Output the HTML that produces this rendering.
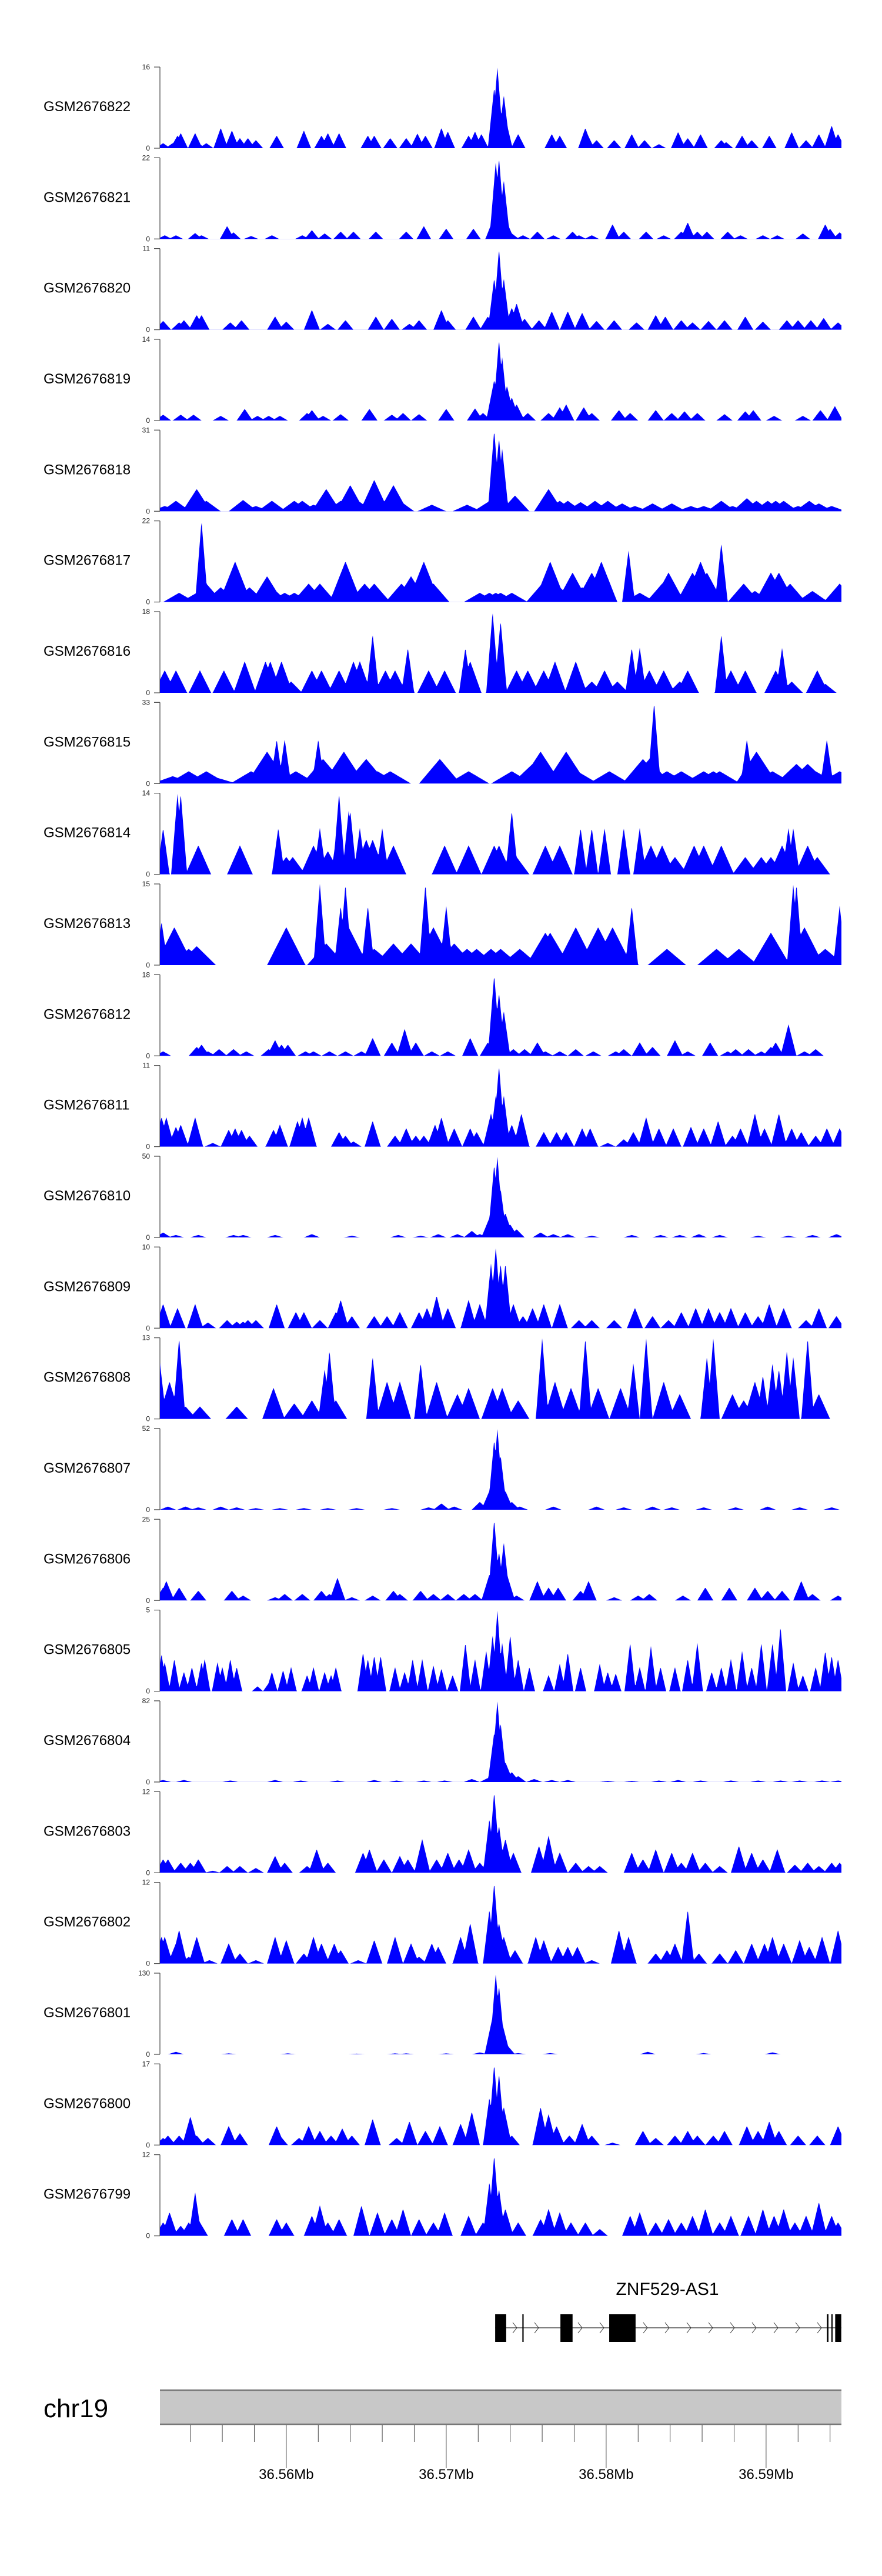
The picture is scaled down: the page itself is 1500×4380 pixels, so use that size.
<!DOCTYPE html>
<html><head><meta charset="utf-8"><style>
html,body{margin:0;padding:0;background:#fff;}
svg{display:block;font-family:"Liberation Sans",sans-serif;}
</style></head><body>
<svg id="chart" width="1500" height="4380" viewBox="0 0 1500 4380" xmlns="http://www.w3.org/2000/svg">
<g id="tracks"></g>
<g id="gene"></g>
<g id="axis"></g>
</svg>
<script>
// ---- data ----
const sampleNames = ["GSM2676822","GSM2676821","GSM2676820","GSM2676819","GSM2676818","GSM2676817","GSM2676816","GSM2676815","GSM2676814","GSM2676813","GSM2676812","GSM2676811","GSM2676810","GSM2676809","GSM2676808","GSM2676807","GSM2676806","GSM2676805","GSM2676804","GSM2676803","GSM2676802","GSM2676801","GSM2676800","GSM2676799"];
const axisMax = [16,22,11,14,31,22,18,33,14,15,18,11,50,10,13,52,25,5,82,12,12,130,17,12];
const peakWidthKb = [0.45,0.45,0.5,0.5,0.9,1.0,0.7,1.3,0.8,1.2,0.5,0.5,0.5,0.5,0.7,0.5,0.5,0.35,0.5,0.5,0.5,0.5,0.5,0.5];
// peaks: [position kb from 36.5521 Mb, signal]
const p822=[[0.2,1],[0.8,1],[1.1,2.5],[1.3,3],[2.2,3],[2.4,1],[2.9,1],[3.8,4],[4.5,3.5],[5.0,2],[5.5,2],[6.0,1.6],[7.3,2.5],[9.0,3.5],[10.1,2.5],[10.5,3],[11.2,3],[13.0,2.5],[13.4,2.5],[14.4,2],[15.4,2],[16.1,2.9],[16.6,2.5],[17.6,4],[18.0,3.3],[19.3,2.5],[19.7,3.3],[20.1,2.8],[20.9,12],[21.1,16],[21.5,10.5],[21.6,6],[22.4,2.8],[24.5,2.8],[25.0,2.5],[26.6,4],[26.7,3],[27.3,1.6],[28.4,1.6],[29.5,2.8],[30.3,1.6],[31.2,0.8],[32.4,3.2],[33.0,2],[33.8,2.8],[35.1,1.6],[35.4,1.2],[36.4,2.5],[37.0,1.6],[38.1,2.5],[39.5,3.2],[40.4,1.6],[41.2,2.8],[42.0,4.5],[42.4,2.8]];
const p821=[[0.3,1],[1.0,1],[2.2,1.6],[2.6,1],[4.2,3.5],[4.6,1.8],[5.7,0.8],[7.0,1],[8.9,1],[9.5,2.4],[10.3,1.5],[11.3,2],[12.1,2],[13.5,2],[15.4,2],[16.5,3.5],[17.9,2.8],[19.6,2.8],[20.8,5],[21.0,21],[21.2,22],[21.5,16],[21.7,4.5],[22.0,1.5],[22.7,1],[23.6,2],[24.6,1],[25.8,2],[26.2,1],[27.0,1],[28.3,4],[29.0,2],[30.4,2],[31.5,1],[32.6,2],[33.0,4.5],[33.6,2],[34.2,2],[35.5,2],[36.3,1],[37.7,1],[38.6,1],[40.2,1.5],[41.6,4],[41.9,2.8],[42.5,1.8]];
const p820=[[0.2,1.2],[1.2,1],[1.5,1.3],[2.3,2],[2.6,2],[4.4,1],[5.1,1.3],[7.2,1.8],[7.9,1.1],[9.5,2.7],[10.5,0.8],[11.6,1.3],[13.5,1.8],[14.5,1.5],[15.6,0.8],[16.2,1.3],[17.6,2.7],[18.0,1.3],[19.6,1.8],[20.5,1.8],[20.9,7],[21.2,11],[21.5,7],[22.0,3],[22.3,3.6],[22.8,1.5],[23.7,1.3],[24.5,2.5],[25.5,2.5],[26.4,2.3],[27.3,1.2],[28.4,1.3],[29.8,1],[31.0,2],[31.6,1.8],[32.6,1.3],[33.3,1],[34.3,1.2],[35.3,1.3],[36.6,1.8],[37.7,1.1],[39.2,1.3],[39.9,1.3],[40.7,1.3],[41.5,1.6],[42.4,1]];
const p819=[[0.2,1],[1.3,1],[2.1,1],[3.8,0.8],[5.3,2],[6.1,0.8],[6.8,0.8],[7.5,0.8],[9.2,1.3],[9.5,1.8],[10.2,0.8],[11.3,1.1],[13.1,2],[14.5,1],[15.2,1.3],[16.2,1.1],[17.9,2],[19.7,2.1],[20.2,1.3],[20.9,7],[21.2,14],[21.4,11],[21.7,6],[22.0,4],[22.3,2.8],[23.0,1.3],[24.3,1.3],[25.0,2.3],[25.4,2.8],[26.5,2.3],[27.0,1.3],[28.7,1.8],[29.4,1.3],[31.0,1.8],[32.0,1.3],[32.8,1.6],[33.6,1.3],[35.3,1.1],[36.6,1.6],[37.1,1.8],[38.4,0.8],[40.2,0.8],[41.3,1.8],[42.2,2.5]];
const p818=[[0.3,2],[1.0,4],[2.1,3],[2.3,8.5],[2.9,4],[5.2,4.3],[6.0,2],[7.0,4],[8.4,4],[8.9,4],[9.6,2.5],[10.4,8.5],[11.3,4],[11.9,10],[12.4,4],[13.4,12],[14.3,3],[14.6,10],[15.0,4],[17.0,2.5],[19.2,2.5],[20.5,3.5],[20.9,31],[21.2,28],[21.4,24],[22.2,6],[24.3,8.5],[25.0,4],[25.5,4],[26.3,3.5],[27.2,4],[28.0,4],[28.9,3],[29.7,2],[30.8,3],[32.0,3],[33.2,2],[34.0,2],[35.1,4],[35.8,2],[36.7,5],[37.3,4],[38.0,4],[38.5,4],[39.0,4],[39.9,2],[40.6,4],[41.2,3],[42.0,2]];
const p817=[[1.2,2.5],[2.3,2.5],[2.6,22],[2.9,5],[3.8,4],[4.7,11],[5.6,4],[6.7,7],[7.0,4],[7.8,2.5],[8.4,2.5],[9.3,5],[10.0,5],[11.6,11],[12.8,5],[13.4,5],[15.1,5],[15.7,7],[16.5,11],[17.1,5],[20.0,2.5],[20.6,2.5],[21.0,2.5],[21.3,2.5],[22.0,2.5],[23.9,5],[24.4,11],[25.0,4],[25.8,8],[26.4,4],[27.0,8],[27.6,11],[29.3,14],[30.0,2.5],[31.4,5],[31.8,8],[33.3,8],[33.8,11],[34.2,8],[35.1,16],[36.5,5],[37.2,3],[38.2,8],[38.7,8],[39.4,5],[40.8,3],[42.5,5]];
const p816=[[0.3,5],[1.0,5],[2.5,5],[4.0,5],[5.3,7],[6.6,7],[6.9,7],[7.6,7],[8.2,2.5],[9.5,5],[10.1,5],[11.2,5],[12.1,7],[12.5,7],[13.3,13],[14.1,5],[14.7,5],[15.5,10],[16.8,5],[17.8,5],[19.1,10],[19.4,7],[20.8,18],[21.3,16],[22.3,5],[23.0,5],[24.0,5],[24.7,7],[26.0,7],[27.0,2.5],[27.8,5],[28.6,2.5],[29.5,10],[30.0,10],[30.6,5],[31.5,5],[32.5,2.5],[33.0,5],[35.1,13],[35.7,5],[36.6,5],[38.5,5],[38.9,10],[39.5,2.5],[41.1,5],[41.6,2]];
const p815=[[0.8,3],[1.8,5],[2.9,5],[3.5,2.5],[5.7,5],[6.7,13],[7.3,18],[7.8,18],[8.5,5],[9.9,18],[10.2,10],[11.5,13],[11.9,5],[12.9,10],[13.6,5],[14.4,5],[17.5,10],[19.3,5],[22.0,5],[23.3,8],[23.8,13],[25.4,13],[26.1,5],[28.1,5],[30.2,10],[30.6,10],[30.9,33],[31.7,5],[32.6,5],[34.0,5],[34.6,5],[35.0,5],[36.7,18],[37.3,13],[38.3,5],[39.8,8],[40.5,8],[41.0,5],[41.7,18],[42.5,5]];
const p814=[[0.2,8],[1.1,14],[1.3,14],[2.4,5],[5.0,5],[7.4,8],[7.9,3],[8.3,3],[9.6,5],[10.0,8],[10.5,4],[11.1,8],[11.2,14],[11.8,11],[11.9,11],[12.5,8],[12.9,6],[13.3,6],[13.9,8],[14.6,5],[17.8,5],[19.3,5],[20.9,5],[21.2,5],[22.0,11],[22.3,3],[24.1,5],[25.0,5],[26.3,8],[27.0,8],[27.8,8],[29.0,8],[30.0,8],[30.7,5],[31.4,5],[32.2,3],[33.4,5],[34.0,5],[35.1,5],[36.6,3],[37.6,3],[38.2,3],[38.9,5],[39.3,8],[39.6,8],[40.5,5],[41.1,3]];
const p813=[[0.1,8],[0.9,7],[1.8,3],[2.3,3.5],[7.9,7],[10.0,15],[10.4,4],[11.3,11],[11.6,15],[11.8,7],[13.0,11],[13.4,3],[14.6,4],[15.7,4],[16.6,15],[17.1,7],[17.9,11],[18.4,4],[19.2,3],[19.8,3],[20.7,3],[21.3,3],[22.5,3],[24.1,6],[24.4,6],[26.0,7],[27.4,7],[28.3,7],[29.5,11],[31.7,3],[34.8,3],[36.2,3],[38.2,6],[38.6,2],[39.6,15],[39.8,15],[40.3,7],[41.6,3],[42.5,11]];
const p812=[[0.2,1],[2.3,2],[2.6,2.5],[3.0,1],[3.7,1.5],[4.6,1.5],[5.4,1],[6.8,1.5],[7.2,3.5],[7.6,2.5],[8.0,2.5],[9.1,1],[9.6,1],[10.6,1],[11.6,1],[12.6,1],[13.3,4],[14.5,3],[15.3,6],[16.0,3],[17.0,1],[18.0,1],[19.4,4],[20.5,3],[20.9,18],[21.2,14],[21.5,10],[22.1,1.5],[22.8,1.5],[23.6,3],[24.1,1],[25.0,1],[26.0,1.5],[27.1,1],[28.5,1],[29.0,1.5],[30.0,3],[30.8,2],[32.2,3.5],[33.0,1],[34.4,3],[35.5,1],[36.0,1.5],[36.8,1.5],[37.6,1],[38.2,2],[38.5,3],[39.3,7],[40.3,1],[41.0,1.5]];
const p811=[[0.1,4],[0.4,4],[1.0,2.7],[1.3,3],[2.2,4],[3.3,0.5],[4.3,2.3],[4.7,2.5],[5.1,2.3],[5.6,1.5],[7.1,2.3],[7.5,3],[8.6,3.5],[8.9,4],[9.3,4],[11.2,2],[11.6,1.5],[12.1,0.7],[13.3,3.5],[14.7,1.5],[15.4,2.5],[16.0,1.5],[16.5,1.5],[17.2,3],[17.6,4],[18.4,2.5],[19.4,2.5],[19.8,2],[20.7,4.5],[21.0,7],[21.2,11],[21.5,7],[22.0,3],[22.6,4.5],[24.0,2],[24.8,2],[25.4,2],[26.4,2.5],[26.9,2.5],[28.0,0.5],[29.0,1],[29.6,2],[30.4,4],[31.2,2.5],[32.1,2.5],[33.2,2.7],[34.0,2.5],[34.9,3.5],[35.8,1.5],[36.3,2.5],[37.2,4.5],[37.8,2.5],[38.7,4.5],[39.5,2.5],[40.1,2],[41.0,1.5],[41.7,2.5],[42.5,2.5]];
const p810=[[0.2,3],[1.0,1.5],[2.4,1.5],[4.6,1.5],[5.2,1.5],[7.2,1.5],[9.5,2],[12.0,1],[14.9,1.5],[16.3,1],[17.4,2],[18.6,2],[19.5,4],[20.0,2],[20.6,12],[20.9,45],[21.1,50],[21.3,30],[21.6,15],[21.9,8],[22.3,5],[23.8,3],[24.6,2],[25.5,2],[27.0,1],[29.5,1.5],[31.3,1.5],[32.5,1.5],[33.7,2],[35.0,1.5],[37.4,1],[39.3,1],[40.8,1.5],[42.3,2]];
const p809=[[0.2,3],[1.1,2.5],[2.2,3],[3.0,0.7],[4.2,1],[4.8,0.8],[5.2,0.8],[5.5,1],[6.0,1],[7.3,3],[8.5,2],[9.0,2],[10.0,1],[11.0,2],[11.3,3.5],[12.0,1.5],[13.4,1.5],[14.2,1.5],[15.0,2],[16.2,2],[16.7,2.5],[17.3,4],[18.0,2.5],[19.3,3.5],[20.0,3],[20.7,8],[21.0,10],[21.3,8],[21.6,8],[22.1,3],[22.7,1.5],[23.3,2.5],[24.0,3],[25.0,3],[26.2,1],[27.0,1],[28.4,1],[29.7,2.5],[30.8,1.5],[31.8,1],[32.6,2],[33.5,2.5],[34.3,2.5],[35.0,2],[35.7,2.5],[36.6,2],[37.4,1.5],[38.1,3],[39.0,2.5],[40.4,1],[41.2,2.5],[42.3,1.5]];
const p808=[[0.0,9],[0.6,6],[1.2,13],[1.6,2],[2.5,2],[4.8,2],[7.1,5],[8.4,2.5],[9.5,3],[10.3,8],[10.6,11],[11.0,3],[13.3,10],[14.2,6],[15.0,6],[16.3,9],[17.3,6],[18.6,4],[19.3,5],[20.8,5],[21.4,5],[22.4,3],[23.9,13],[24.7,6],[25.7,5],[26.6,13],[27.4,5],[28.8,5],[29.6,9],[30.4,13],[31.5,6],[32.5,4],[34.2,10],[34.6,13],[35.8,4],[36.5,3],[37.2,6],[37.7,7],[38.3,9],[38.7,8],[39.2,11],[39.6,10],[40.5,13],[41.2,4]];
const p807=[[0.5,2],[1.6,2],[2.4,1.5],[3.8,2],[4.8,1.5],[6.0,1],[7.5,1],[9.0,1],[10.5,1],[12.3,1],[14.5,1],[16.8,1.5],[17.6,4],[18.4,2],[20.0,5],[20.6,12],[20.9,45],[21.1,52],[21.3,35],[21.6,12],[22.0,5],[22.5,2],[24.6,2],[27.3,2],[29.0,1.5],[30.8,2],[32.0,1.5],[34.0,1.5],[36.0,1.5],[38.0,2],[40.0,1.5],[42.0,1.5]];
const p806=[[0.2,4],[0.4,6],[1.2,4],[2.4,3],[4.5,3],[5.2,1.5],[7.2,1],[7.8,2],[8.9,2],[10.1,3],[10.6,2],[11.1,7],[12.0,1],[13.3,1.5],[14.6,3],[15.0,2],[16.3,3],[17.1,2],[18.0,2],[19.0,2],[19.7,2],[20.6,8],[20.9,25],[21.2,15],[21.5,18],[21.7,8],[22.3,1.5],[23.6,6],[24.3,4],[24.9,4],[26.3,3],[26.8,6],[28.4,1],[29.9,1.5],[30.6,2],[32.7,1.5],[34.1,4],[35.6,4],[37.2,4],[38.0,3],[38.9,3],[40.1,6],[40.8,2],[42.4,1.5]];
const p805=[[0.1,2.3],[0.3,1.8],[0.9,2],[1.5,1.2],[2.0,1.5],[2.6,1.8],[2.8,2],[3.6,1.8],[3.9,1.5],[4.4,2],[4.8,1.5],[6.1,0.3],[6.8,0.5],[7.0,1.2],[7.7,1.3],[8.2,1.5],[9.2,1],[9.6,1.5],[10.3,1.2],[10.7,1],[11.0,1.5],[12.7,2.4],[13.0,2],[13.4,2.2],[13.8,2.2],[14.7,1.5],[15.3,1.2],[15.8,2],[16.4,2],[17.1,1.6],[17.6,1.4],[18.3,1],[19.1,3],[19.7,2],[20.4,2.5],[20.8,3.5],[21.1,5],[21.4,3],[21.9,3.5],[22.4,2],[23.1,1.5],[24.3,1],[25.0,1.7],[25.5,2.4],[26.3,1.5],[27.5,1.7],[28.0,1.2],[28.5,1.1],[29.4,3],[30.0,1.5],[30.7,2.8],[31.3,1.5],[32.2,1.5],[33.0,2],[33.6,3],[34.5,1.2],[35.1,1.5],[35.7,2],[36.4,2.5],[37.0,1.5],[37.6,3],[38.3,3],[38.8,4],[39.6,1.8],[40.2,1],[41.0,1.5],[41.6,2.5],[42.0,2.2],[42.4,2]];
const p804=[[0.2,2],[1.5,2],[4.4,1.5],[7.2,2],[8.8,1.5],[11.1,1.5],[13.4,2],[14.8,1.5],[16.5,1.5],[17.8,1.5],[19.5,3],[20.5,4],[20.9,50],[21.1,82],[21.3,60],[21.6,20],[22.0,10],[22.4,6],[23.4,3],[24.5,2],[25.5,2],[28.0,1],[29.5,1],[31.2,1.5],[32.4,2],[33.8,1.5],[35.7,1.5],[37.4,1.5],[38.8,1.5],[40.0,1.5],[41.4,1.5],[42.4,1.5]];
const p803=[[0.2,2],[0.5,2],[1.3,1.5],[1.9,1.5],[2.4,2],[3.3,0.3],[4.2,1],[5.0,1],[6.0,0.7],[7.2,2.5],[7.8,1.5],[9.2,1],[9.8,3.5],[10.5,1.5],[12.7,3],[13.1,3.5],[14.0,2],[15.0,2.5],[15.5,2],[16.4,5],[17.3,2],[18.0,3],[18.7,2],[19.3,3.5],[20.0,1.5],[20.6,8],[20.9,12],[21.2,7],[21.6,5],[22.1,3],[23.7,4],[24.3,5.5],[25.0,3],[26.0,1.5],[26.8,1],[27.5,1],[29.5,3],[30.2,2],[31.0,3.5],[32.0,3],[32.6,1.5],[33.3,3],[34.1,1.5],[35.0,1],[36.2,4],[37.0,3],[37.7,2],[38.6,3.5],[39.7,1.2],[40.5,1.5],[41.2,1],[42.0,1.5],[42.5,1.5]];
const p802=[[0.1,4],[0.3,4],[1.0,3],[1.2,5],[1.8,1],[2.3,4],[3.1,0.5],[4.3,3],[5.0,1.5],[6.0,0.5],[7.2,4],[7.9,3.5],[9.0,1.5],[9.6,4],[10.1,3],[10.9,3],[11.3,2],[12.4,0.5],[13.4,3.5],[14.7,4],[15.7,3],[16.2,1],[17.0,3],[17.4,2.5],[18.8,4],[19.4,6],[20.6,8],[20.9,12],[21.2,6],[21.5,4],[22.2,2],[23.5,4],[24.0,3.5],[24.9,2.5],[25.5,2.5],[26.1,2.5],[27.0,0.5],[28.7,5],[29.3,4],[31.0,1.5],[31.7,2],[32.2,3],[33.0,8],[33.7,1.5],[35.0,1.5],[36.0,2],[37.0,3],[37.8,3],[38.3,4],[39.0,3],[40.0,3.5],[40.6,2.5],[41.4,4],[42.4,5]];
const p801=[[1.0,4],[4.3,1.5],[8.0,1.5],[12.3,1],[14.7,1.5],[15.4,1.5],[17.9,1.5],[20.0,3],[20.8,60],[21.0,130],[21.2,110],[21.4,50],[21.7,15],[22.4,2],[24.4,2],[30.5,4],[34.0,2],[38.3,3]];
const p800=[[0.2,1.5],[0.5,2],[1.2,2],[1.9,6],[2.3,2],[3.0,1.5],[4.3,4],[5.0,2.5],[7.3,4],[7.5,2],[8.7,1.5],[9.3,4],[10.0,3],[10.7,2],[11.4,3.5],[12.0,2],[13.3,5.5],[14.8,1.5],[15.6,5],[16.6,3],[17.5,4],[18.8,4.5],[19.5,7],[20.6,10],[20.9,17],[21.2,15],[21.5,8],[22.0,2],[23.8,8],[24.3,6.5],[24.8,4],[25.6,2],[26.4,4.5],[27.0,2],[28.3,0.5],[30.2,3],[31.0,1.5],[32.2,2],[33.0,3],[33.6,2],[34.6,2],[35.3,3],[36.7,4],[37.4,3],[38.1,5],[38.7,3],[39.9,2],[41.1,2],[42.4,4]];
const p799=[[0.2,2],[0.6,3.5],[1.3,1.5],[1.8,2],[2.2,6.5],[2.5,2],[4.5,2.5],[5.2,2.5],[7.3,2.5],[7.9,2],[9.5,3],[10.0,4.5],[10.5,2],[11.2,2.5],[12.6,4.5],[13.6,3.5],[14.5,2.5],[15.2,4],[16.2,2.5],[17.1,2],[17.8,3.5],[19.3,3],[20.2,2],[20.6,8],[20.9,12],[21.2,7],[21.6,4],[22.4,2],[23.8,2.5],[24.3,4],[25.0,3.5],[25.7,2],[26.6,2],[27.5,1],[29.4,3],[30.0,3.5],[31.0,2],[31.8,2.5],[32.6,2],[33.3,3],[34.1,4],[35.0,2],[35.7,3],[36.8,3],[37.7,4],[38.4,3],[39.0,4],[39.7,2],[40.4,3],[41.2,5],[42.0,3],[42.4,2]];
const trackPeaks=[p822,p821,p820,p819,p818,p817,p816,p815,p814,p813,p812,p811,p810,p809,p808,p807,p806,p805,p804,p803,p802,p801,p800,p799];
// gene exons (kb from window start) and axis ticks
const exonStarts=[20.96,22.66,25.04,28.09,41.70,41.98,42.22];
const exonEnds=[21.65,22.74,25.80,29.74,41.80,42.06,42.60];
const majorTickMb=[36.56,36.57,36.58,36.59];
const majorTickLabels=["36.56Mb","36.57Mb","36.58Mb","36.59Mb"];

// ---- layout / scales ----
const NS="http://www.w3.org/2000/svg";
const X0=272, X1=1431, pxPerKb=27.2, startMb=36.5521;
const xKb=kb=>X0+kb*pxPerKb;
const xMb=mb=>xKb((mb-startMb)*1000);
function mk(tag,attrs,parent){const e=document.createElementNS(NS,tag);for(const k in attrs)e.setAttribute(k,attrs[k]);parent.appendChild(e);return e;}

const tg=document.getElementById('tracks');
for(let t=0;t<sampleNames.length;t++){
  const top=114+154.33*t, base=top+138, H=138;
  const g=mk('g',{},tg);
  
  
  const lab=mk('text',{x:74,y:top+75,'font-size':24,fill:'#000'},g);
  lab.textContent=sampleNames[t];
  
  
  const ax=mk('path',{d:`M${X0} ${top}V${base}M${X0-10} ${top}H${X0}M${X0-10} ${base}H${X0}`,stroke:'#555','stroke-width':1.3,fill:'none'},g);
  
  
  const tmax=mk('text',{x:255,y:top+4,'font-size':12,'text-anchor':'end',fill:'#222'},g);
  tmax.textContent=axisMax[t];
  
  
  const t0=mk('text',{x:255,y:base+4,'font-size':12,'text-anchor':'end',fill:'#222'},g);
  t0.textContent='0';
  
  
  // signal
  const pk=trackPeaks[t], hw=peakWidthKb[t], mx=axisMax[t];
  let d=`M${X0} ${base}`;
  for(let px=0;px<=X1-X0;px++){
    const kb=px/pxPerKb; let v=0;
    for(const p of pk){const w=(p[1]>mx*0.5)?Math.min(hw,0.4):hw;const f=1-Math.abs(kb-p[0])/w;if(f>0){const y=p[1]*f;if(y>v)v=y;}}
    d+=`L${X0+px} ${(base-Math.min(v,mx)/mx*H).toFixed(1)}`;
  }
  d+=`L${X1} ${base}Z`;
  const sig=mk('path',{d:d,fill:'#0000ff',stroke:'none'},g);
  
  
}

// gene track
const gg=document.getElementById('gene');
const gl=mk('text',{x:1135,y:3902,'font-size':30,'text-anchor':'middle',fill:'#000'},gg);
gl.textContent='ZNF529-AS1';


const intr=mk('line',{x1:xKb(exonStarts[0]),x2:X1,y1:3958,y2:3958,stroke:'#333','stroke-width':1.3},gg);


for(let i=0;i<exonStarts.length;i++){
  const r=mk('rect',{x:xKb(exonStarts[i]),y:3935,width:Math.max(2,(exonEnds[i]-exonStarts[i])*pxPerKb),height:47,fill:'#000'},gg);
  
  
}
for(let cx=875;cx<1400;cx+=37){
  const inEx=exonStarts.some((s,i)=>cx>xKb(s)-6&&cx<xKb(exonEnds[i])+6);
  if(inEx)continue;
  const c=mk('path',{d:`M${cx-3} ${3949}L${cx+4} 3958L${cx-3} 3967`,stroke:'#333','stroke-width':1,fill:'none'},gg);
  
  
}

// genome axis / ideogram
const ag=document.getElementById('axis');
const cl=mk('text',{x:74,y:4110,'font-size':44,fill:'#000'},ag);
cl.textContent='chr19';


const ide=mk('rect',{x:X0,y:4064,width:X1-X0,height:58,fill:'#c8c8c8',stroke:'none'},ag);


mk('path',{d:`M${X0} 4064H${X1}M${X0} 4122H${X1}`,stroke:'#777','stroke-width':2.5},ag);
for(let k=0;k<=20;k++){
  const mb=36.554+k*0.002; const x=xMb(mb); if(x>X1)break;
  const major=majorTickMb.some(m=>Math.abs(m-mb)<1e-6);
  const tk=mk('line',{x1:x,x2:x,y1:4123,y2:major?4196:4152,stroke:'#444','stroke-width':1},ag);
  
  
}
for(let i=0;i<majorTickMb.length;i++){
  const tl=mk('text',{x:xMb(majorTickMb[i]),y:4215,'font-size':24,'text-anchor':'middle',fill:'#000'},ag);
  tl.textContent=majorTickLabels[i];
  
  
}
</script>
</body></html>
